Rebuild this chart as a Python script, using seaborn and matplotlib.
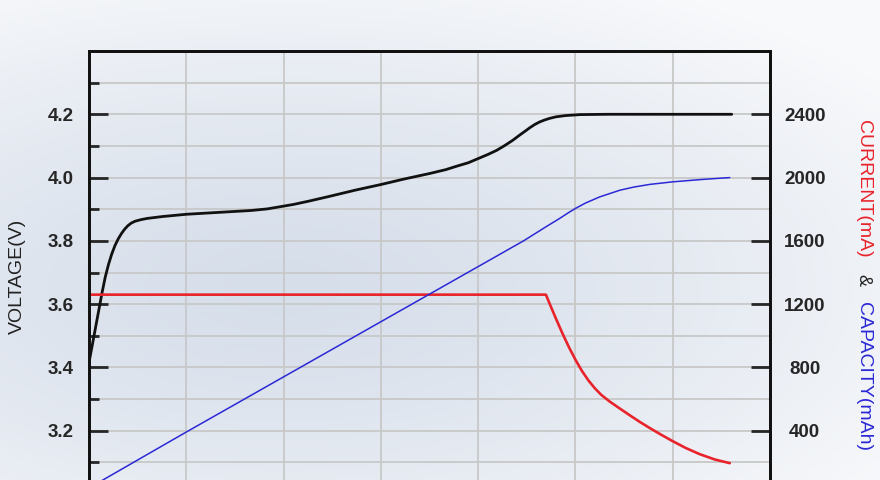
import numpy as np
import matplotlib
matplotlib.use("Agg")
import matplotlib.pyplot as plt
import seaborn as sns

# ---- data (time in minutes) ----
volt_t = [0, 1, 2, 3, 4, 5, 6, 7, 8, 9, 10, 11, 12, 13, 14.2, 16, 18, 22.8,
          30, 40, 50, 55, 59, 63, 68, 74.3, 82, 90, 97, 105.1, 110, 113.4, 117,
          120, 123, 125.7, 128, 130.7, 132.5, 134.4, 136, 137.5, 139, 140.5,
          142, 144, 147, 151.4, 160, 198.2]
volt_v = [3.415, 3.47, 3.525, 3.58, 3.635, 3.685, 3.725, 3.758, 3.785, 3.806,
          3.823, 3.837, 3.848, 3.856, 3.862, 3.867, 3.871, 3.877, 3.884, 3.890,
          3.896, 3.901, 3.908, 3.915, 3.926, 3.941, 3.960, 3.978, 3.995, 4.013,
          4.025, 4.036, 4.047, 4.060, 4.073, 4.086, 4.100, 4.118, 4.132, 4.146,
          4.158, 4.168, 4.176, 4.182, 4.187, 4.192, 4.196, 4.199, 4.200, 4.200]

curr_t = [0, 140.9, 142, 144, 146, 148, 150.1, 152, 154, 156, 158, 160.6,
          163.7, 166.8, 169.9, 173, 176.5, 179.9, 184, 188.3, 193, 197.6]
curr_ma = [1260, 1260, 1205, 1108, 1015, 928, 845, 778, 718, 668, 626, 584,
           540, 497, 455, 416, 374, 335, 291, 252, 218, 195]

cap_t = [0, 29.6, 134, 141, 145, 148, 150.1, 153, 157.5, 163.7, 168, 173,
         180, 189, 197.6]
cap_mah = [38, 387, 1600, 1690, 1740, 1780, 1806, 1838, 1878, 1920, 1940,
           1957, 1973, 1988, 2000]

volt_ticks = [3.2, 3.4, 3.6, 3.8, 4.0, 4.2]
volt_minor = [3.1, 3.3, 3.5, 3.7, 3.9, 4.1, 4.3]
right_ticks = [400, 800, 1200, 1600, 2000, 2400]
time_ticks = [0, 30, 60, 90, 120, 150, 180, 210]

sns.set_style("white")
plt.rcParams["font.family"] = ["Liberation Sans", "DejaVu Sans"]

fig = plt.figure(figsize=(8.8, 4.8), dpi=100)

# soft bluish-grey backdrop
bg = fig.add_axes([0, 0, 1, 1], zorder=-10)
gx, gy = np.meshgrid(np.linspace(0, 1, 220), np.linspace(0, 1, 120))
r = np.sqrt(((gx - 0.32) / 0.85) ** 2 + ((gy - 0.60) / 0.72) ** 2)
r = np.clip(r, 0, 1)
c_in = np.array([214, 222, 234]) / 255
c_out = np.array([248, 249, 251]) / 255
w = r[..., None] ** 1.3
img = c_in[None, None, :] * (1 - w) + c_out[None, None, :] * w
bg.imshow(img, aspect="auto", extent=[0, 1, 0, 1], origin="upper")
bg.axis("off")

ax = fig.add_axes([89 / 880, (480 - 494) / 480, (770 - 89) / 880, (494 - 51) / 480])
ax.set_facecolor("none")
ax2 = ax.twinx()

sns.lineplot(x=volt_t, y=volt_v, ax=ax, color="#111111", lw=2.0)
sns.lineplot(x=curr_t, y=curr_ma, ax=ax2, color="#e8232b", lw=1.9)
sns.lineplot(x=cap_t, y=cap_mah, ax=ax2, color="#2b28d6", lw=1.1)

ax.set_xlim(0, 210)
ax.set_ylim(3.0, 4.4)
ax2.set_ylim(0, 2800)

ax.set_xticks(time_ticks)
ax.set_yticks(volt_ticks)
ax.set_yticks(volt_minor, minor=True)
ax.set_yticklabels([f"{v:.1f}" for v in volt_ticks])
ax2.set_yticks(right_ticks)
ax2.set_yticklabels([str(v) for v in right_ticks])

ax.grid(True, which="both", axis="y", color="#c8c8c8", lw=1.3)
ax.grid(True, which="major", axis="x", color="#c8c8c8", lw=1.3)
ax.set_axisbelow(True)

ax.tick_params(axis="y", which="major", direction="in", length=14, width=2,
               labelsize=13.5, pad=11, right=False)
ax.tick_params(axis="y", which="minor", direction="in", length=7, width=2, right=False)
ax.tick_params(axis="x", which="major", direction="in", length=14, width=2,
               labelbottom=False, top=False)
ax2.tick_params(axis="y", which="major", direction="in", length=14, width=2,
                labelsize=13.5, pad=25)
for lbl in ax.get_yticklabels() + ax2.get_yticklabels():
    lbl.set_fontweight("bold")
for lbl in ax2.get_yticklabels():
    lbl.set_ha("center")

for a in (ax, ax2):
    for s in a.spines.values():
        s.set_linewidth(2)
        s.set_color("#111111")
ax.set_xlabel("")
ax.set_ylabel("")
ax2.set_ylabel("")

fig.text(17.5 / 880, 1 - 276 / 480, "VOLTAGE(V)", rotation=90, fontsize=14,
         ha="center", va="center", color="#222222")
fig.text(863 / 880, 1 - 188.5 / 480, "CURRENT(mA)", rotation=270, fontsize=14,
         ha="center", va="center", color="#e8232b")
fig.text(863 / 880, 1 - 280 / 480, "&", rotation=270, fontsize=13,
         ha="center", va="center", color="#222222")
fig.text(863 / 880, 1 - 376.5 / 480, "CAPACITY(mAh)", rotation=270, fontsize=14,
         ha="center", va="center", color="#2b28d6")

fig.savefig("out.png", dpi=100)
